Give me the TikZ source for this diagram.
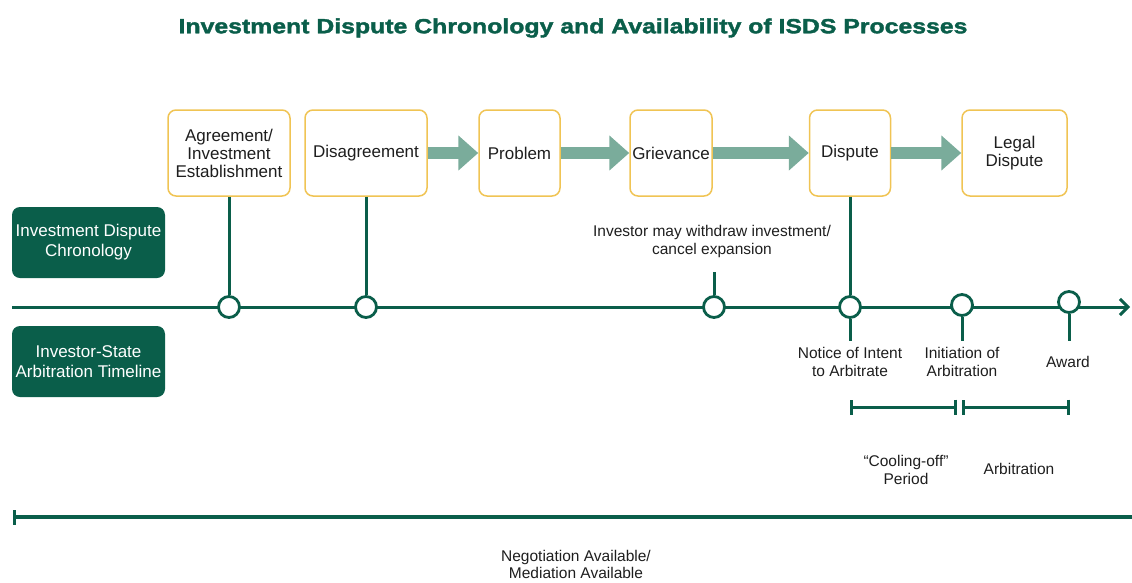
\documentclass[tikz,border=0pt]{standalone}
\usepackage{fontspec}
\setmainfont{Liberation Sans}
\newfontfamily\headfont[FakeStretch=1.21,FakeBold=1.8]{Liberation Sans Bold}
\usetikzlibrary{arrows.meta}
\definecolor{deepgreen}{RGB}{10,94,74}
\definecolor{goldline}{RGB}{240,196,84}
\definecolor{sage}{RGB}{122,172,155}
\definecolor{inktext}{RGB}{30,30,30}
\begin{document}
\begin{tikzpicture}[x=1pt,y=-1pt,
  every node/.style={font=\fontsize{17}{18}\selectfont, text=inktext, align=center, inner sep=0pt},
  stagebox/.style={draw=goldline, line width=1.5pt, fill=white, rounded corners=8pt, minimum height=86pt},
  labelbox/.style={fill=deepgreen, rounded corners=8pt, minimum width=153pt, minimum height=71pt, text=white,
    font=\fontsize{17}{20}\selectfont},
  flow/.style={draw=sage, line width=12pt, -{Triangle[length=20pt,width=34pt]}},
  axis/.style={draw=deepgreen, line width=3pt},
  milestone/.style={circle, draw=deepgreen, line width=2.8pt, fill=white, minimum size=21pt},
  span/.style={draw=deepgreen, line width=3pt, {Bar[width=15pt]}-{Bar[width=15pt]}},
  caption/.style={font=\fontsize{15.5}{18}\selectfont}
]
\useasboundingbox (0,0) rectangle (1132,582);

% title
\node[font=\headfont\fontsize{20.5}{24}\selectfont, text=deepgreen] (title) at (573,28)
  {Investment Dispute Chronology and Availability of ISDS Processes};

% chronology stages
\node[stagebox, minimum width=122pt] (agree) at (229,153) {Agreement/\\Investment\\Establishment};
\node[stagebox, minimum width=122pt] (disag) at (366,153) {Disagreement};
\node[stagebox, minimum width=81pt] (prob) at (519.5,153) {Problem};
\node[stagebox, minimum width=82pt] (griev) at (671,153) {Grievance};
\node[stagebox, minimum width=81pt] (disp) at (850,153) {Dispute};
\node[stagebox, minimum width=105pt] (legal) at (1014.5,153) {Legal\\Dispute};

\draw[flow] (disag.east) -- (prob.west);
\draw[flow] (prob.east) -- (griev.west);
\draw[flow] (griev.east) -- (disp.west);
\draw[flow] (disp.east) -- (legal.west);

% row labels
\node[labelbox] (chron) at (88.5,242.5) {Investment Dispute\\Chronology};
\node[labelbox] (isat) at (88.5,361.5) {Investor-State\\Arbitration Timeline};

% main timeline
\coordinate (tstart) at (12,307);
\coordinate (tend) at (1130,307);
\draw[axis, -{Straight Barb[length=8pt,width=16pt]}] (tstart) -- (tend);

% milestones on the timeline
\node[milestone] (m1) at (229,307) {};
\node[milestone] (m2) at (366,307) {};
\node[milestone] (m3) at (714,307) {};
\node[milestone] (m4) at (850,307) {};
\node[milestone] (m5) at (962,305) {};
\node[milestone] (m6) at (1069,302) {};

\coordinate (w3) at (714,272);
\coordinate (d4) at (850,341);
\coordinate (d5) at (962,341);
\coordinate (d6) at (1069,341);

\draw[axis] (agree.south) -- (m1.north);
\draw[axis] (disag.south) -- (m2.north);
\draw[axis] (w3) -- (m3.north);
\draw[axis] (disp.south) -- (m4.north);
\draw[axis] (m4.south) -- (d4);
\draw[axis] (m5.south) -- (d5);
\draw[axis] (m6.south) -- (d6);

% milestone captions
\node[caption] (withdraw) at (712,241) {Investor may withdraw investment/\\cancel expansion};
\node[caption] (notice) at (850,362) {Notice of Intent\\to Arbitrate};
\node[caption] (init) at (962,362) {Initiation of\\Arbitration};
\node[caption] (award) at (1068,362) {Award};

% arbitration periods
\coordinate (p1a) at (850,407);
\coordinate (p1b) at (957,407);
\coordinate (p2a) at (962,407);
\coordinate (p2b) at (1070,407);
\draw[span] (p1a) -- (p1b);
\draw[span] (p2a) -- (p2b);
\node[caption] (cool) at (906,470) {“Cooling-off”\\Period};
\node[caption] (arb) at (1019,469) {Arbitration};

% negotiation / mediation span
\coordinate (n1) at (13,517);
\coordinate (n2) at (1136,517);
\draw[draw=deepgreen, line width=3.2pt, {Bar[width=15pt]}-] (n1) -- (n2);
\node[caption, font=\fontsize{15.5}{17}\selectfont] (nego) at (576,564) {Negotiation Available/\\Mediation Available};
\end{tikzpicture}
\end{document}
